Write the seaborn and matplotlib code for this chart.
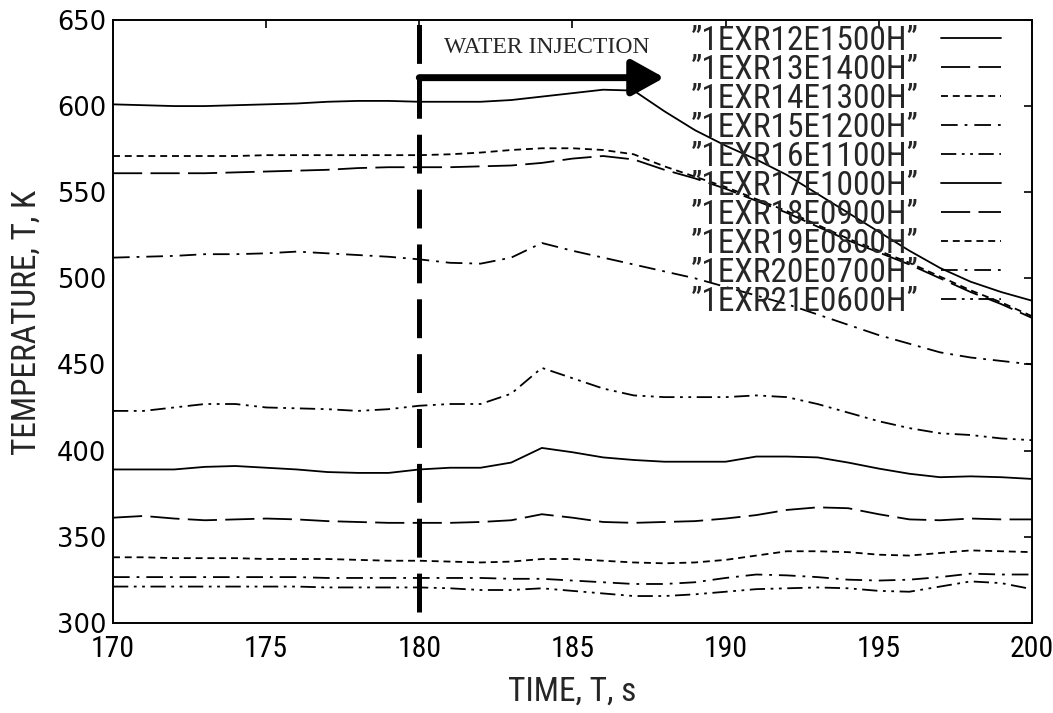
import numpy as np
import pandas as pd
import matplotlib
matplotlib.use("Agg")
import matplotlib.pyplot as plt
from matplotlib import font_manager as fm
from matplotlib.patches import FancyArrowPatch
import seaborn as sns

# ---------------- data ----------------
TIME = list(range(170, 201))

LABELS = ["1EXR12E1500H", "1EXR13E1400H", "1EXR14E1300H", "1EXR15E1200H",
          "1EXR16E1100H", "1EXR17E1000H", "1EXR18E0900H", "1EXR19E0800H",
          "1EXR20E0700H", "1EXR21E0600H"]

T_1500 = [601, 600.5, 600, 600, 600.5, 601, 601.5, 602.5, 603, 603, 602.5, 602.5, 602.5, 603.5, 605.5,
          607.5, 609.5, 609, 597, 586, 577, 569, 560, 549, 538, 527, 516, 506, 498, 492, 487]
T_1400 = [561, 561, 561, 561, 561.5, 562, 562.5, 563, 564, 564.5, 564.5, 564.5, 565, 565.5, 567,
          569.5, 571, 569, 563, 558, 552, 545, 538, 530, 522, 515, 508, 500, 492, 485, 477]
T_1300 = [571, 571, 571, 571, 571, 571.5, 571.5, 571.5, 571.5, 571.5, 571.5, 572, 573, 574.5, 575.5,
          575.5, 574.5, 572, 565, 559, 553, 546, 539, 531, 523, 516, 509, 501, 493, 486, 478]
T_1200 = [512, 512.5, 513, 514, 514, 514.5, 515.5, 514.5, 513.5, 512.5, 511, 509, 508.5, 512, 520.5,
          516, 512, 508, 504, 500, 495, 490, 485, 479, 473, 467, 462, 457, 454, 452, 450]
T_1100 = [423, 423, 425, 427, 427, 425, 424.5, 424, 423, 424, 426, 427, 427, 433, 448,
          442, 436, 432, 431, 431, 431, 432, 431, 427, 422, 417, 413, 410, 409, 407, 406]
T_1000 = [389, 389, 389, 390.5, 391, 390, 389, 387.5, 387, 387, 389, 390, 390, 393, 401.5,
          399, 396, 394.5, 393.5, 393.5, 393.5, 396.5, 396.5, 396, 393, 389.5, 386.5, 384.5, 385, 384.5, 383.5]
T_0900 = [361, 362, 360.5, 359.5, 360, 360.5, 360, 359, 358.5, 358, 358, 358, 358.5, 359.5, 363,
          361, 358.5, 358, 358.5, 359, 360.5, 362.5, 365.5, 367, 366.5, 363, 360, 359.5, 360.5, 360, 360]
T_0800 = [338, 338, 337.5, 337.5, 337.5, 337, 337, 337, 336.5, 336, 336, 335.5, 335, 335.5, 337,
          337, 336, 335, 334.5, 335, 336.5, 339, 341.5, 341.5, 341, 339.5, 339, 340.5, 342, 341.5, 341]
T_0700 = [326.5, 326.5, 326.5, 326.5, 326.5, 326.5, 326.5, 326, 326, 326, 326, 326, 326, 325.5, 325.5,
          324.5, 323.5, 322.5, 322.5, 323.5, 326, 328, 327.5, 326.5, 325, 324.5, 325, 326.5, 328.5, 328, 328]
T_0600 = [321, 321, 321, 321, 321, 321, 321, 320.5, 320.5, 320.5, 320.5, 320, 319, 319, 320,
          318.5, 317, 315.5, 315.5, 316.5, 318, 319.5, 320, 320.5, 320, 318.5, 318, 321, 324, 323, 319.5]

SERIES = [T_1500, T_1400, T_1300, T_1200, T_1100, T_1000, T_0900, T_0800, T_0700, T_0600]

INJ_TIME = 180
INJ_END = 188
INJ_LEVEL = 616.5
INJ_TEXT = "WATER INJECTION"

XTICKS = [170, 175, 180, 185, 190, 195, 200]
YTICKS = [300, 350, 400, 450, 500, 550, 600, 650]

# ---------------- style ----------------
sns.set_theme(style="white")


def has_font(name):
    try:
        fm.findfont(fm.FontProperties(family=name), fallback_to_default=False)
        return True
    except Exception:
        return False


def find_condensed():
    prefs = ["Liberation Sans Narrow", "Roboto Condensed", "Open Sans Condensed",
             "Noto Sans Condensed", "DejaVu Sans Condensed", "Noto Sans Display Condensed"]
    for p in prefs:
        for f in fm.fontManager.ttflist:
            if f.name == p and f.style == "normal" and f.weight in (400, "normal", "regular"):
                return fm.FontProperties(fname=f.fname)
    cands = []
    for f in fm.fontManager.ttflist:
        nm = (f.name + " " + str(f.fname)).lower()
        cond = f.stretch in ("condensed", "semi-condensed", "extra-condensed") or "condensed" in nm or "narrow" in nm
        if cond and f.style == "normal" and str(f.weight) in ("400", "normal", "regular") \
                and "mono" not in nm and "cjk" not in nm and "semicondensed" not in nm.replace("-", ""):
            cands.append(f)
    for key in ["dejavu", "liberation", "noto sans", "roboto", "open sans", "lato", "inter"]:
        for f in cands:
            if key in f.name.lower():
                return fm.FontProperties(fname=f.fname)
    if cands:
        return fm.FontProperties(fname=cands[0].fname)
    return None


COND_FP = find_condensed()
if COND_FP is not None:
    COND_SIZE = 24
else:
    COND_FP = fm.FontProperties(family="DejaVu Sans")
    COND_SIZE = 19


def cfp(size):
    fp = COND_FP.copy()
    fp.set_size(size)
    return fp


SERIF = "Liberation Serif" if has_font("Liberation Serif") else "DejaVu Serif"
plt.rcParams["font.family"] = ["DejaVu Sans"]
plt.rcParams["lines.scale_dashes"] = False

names = ["\u201d" + s + "\u201d" for s in LABELS]
df = pd.concat([pd.DataFrame({"time": TIME, "temp": v, "series": n}) for n, v in zip(names, SERIES)],
               ignore_index=True)

pattern = ["", (21, 6), (5, 3.5), (12, 5, 2, 5), (11, 4, 2, 4, 2, 4)]
dashes = {n: pattern[i % 5] for i, n in enumerate(names)}
palette = {n: "black" for n in names}

fig = plt.figure(figsize=(10.53, 7.13), dpi=100)
ax = fig.add_axes([0.1073, 0.1266, 0.8727, 0.8454])

sns.lineplot(data=df, x="time", y="temp", hue="series", style="series", hue_order=names,
             style_order=names, palette=palette, dashes=dashes, linewidth=1.3, legend=False,
             estimator=None, ax=ax)

ax.set_xlim(170, 200)
ax.set_ylim(300, 650)
ax.set_xticks(XTICKS)
ax.set_yticks(YTICKS)
ax.set_xticklabels([str(t) for t in XTICKS])
ax.set_yticklabels([str(t) for t in YTICKS])
for lab in ax.get_xticklabels():
    lab.set_fontproperties(cfp(COND_SIZE - 2.5))
for lab in ax.get_yticklabels():
    lab.set_fontproperties(fm.FontProperties(family="DejaVu Sans", size=18.5))
    lab.set_color("#222222")
ax.tick_params(direction="in", length=6, width=1.2, top=True, right=True, colors="black")
ax.tick_params(axis="x", pad=9)
ax.tick_params(axis="y", pad=5)
for s in ax.spines.values():
    s.set_color("black")
    s.set_linewidth(1.4)

ax.set_xlabel("TIME, T, s", fontproperties=cfp(COND_SIZE))
ax.set_ylabel("TEMPERATURE, T, K", fontproperties=cfp(COND_SIZE))
ax.xaxis.set_label_coords(0.5, -0.087)
ax.yaxis.set_label_coords(-0.076, 0.499)

# legend
handles = ax.get_lines()[:10]
leg = ax.legend(handles, names, loc="upper right", bbox_to_anchor=(0.966, 0.992), frameon=False,
                markerfirst=False, handlelength=1.8, handletextpad=0.65, labelspacing=-0.09,
                borderpad=0, borderaxespad=0, prop=cfp(COND_SIZE))

# water injection marker
ax.plot([INJ_TIME, INJ_TIME], [306, 651.7], color="black", lw=3.6, dashes=(28, 11.5),
        clip_on=False, solid_capstyle="butt", dash_capstyle="butt")
arr = FancyArrowPatch((INJ_TIME, INJ_LEVEL), (INJ_END, INJ_LEVEL),
                      arrowstyle="-|>,head_length=0.9,head_width=0.5", mutation_scale=22,
                      lw=5, color="black", shrinkA=0, shrinkB=0)
ax.add_patch(arr)
ax.text(184.17, 634.3, INJ_TEXT, fontfamily=SERIF, fontsize=17, ha="center", va="center")

fig.savefig("out.png", dpi=100)
